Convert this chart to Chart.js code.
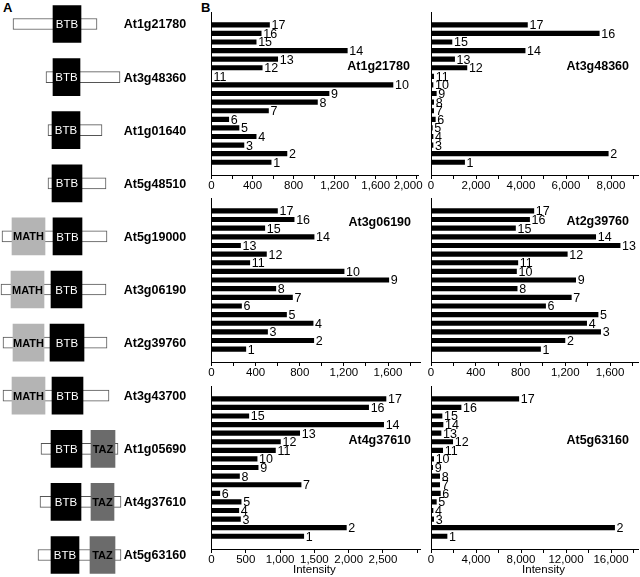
<!DOCTYPE html>
<html>
<head>
<meta charset="utf-8">
<script src="https://cdn.jsdelivr.net/npm/chart.js@4"></script>
<style>
  html, body { margin: 0; padding: 0; background: #fff; }
  #fig { position: relative; width: 640px; height: 577px; overflow: hidden; font-family: "Liberation Sans", Arial, sans-serif; }
  #fig canvas { position: absolute; }
  .tag { position: absolute; font-weight: bold; font-size: 13px; line-height: 13px; }
</style>
</head>
<body>
<div id="fig">
  <div class="tag" style="left:3px;top:1px">A</div>
  <div class="tag" style="left:201px;top:1px">B</div>
</div>
<script>
// ---- panel A: domain layout (schematic units) ----
const genes = ['At1g21780', 'At3g48360', 'At1g01640', 'At5g48510', 'At5g19000', 'At3g06190',
               'At2g39760', 'At3g43700', 'At1g05690', 'At4g37610', 'At5g63160'];
const proteinSpan = [[13, 97], [46, 120], [48, 102], [48, 106], [2, 107], [1, 106],
                     [3, 107], [3, 109], [41, 118], [40, 121], [38, 121]];
const mathSpan = [null, null, null, null, [12, 45], [11, 44], [13, 44], [12, 45], null, null, null];
const btbSpan = [[53, 81], [53, 80], [52, 80], [52, 82], [53, 82], [51, 82],
                 [50, 84], [52, 83], [51, 82], [51, 81], [51, 79]];
const tazSpan = [null, null, null, null, null, null, null, null, [91, 115], [91, 114], [90, 115]];

// ---- panel B: intensity per sample 1..17 ----
const samples = [1, 2, 3, 4, 5, 6, 7, 8, 9, 10, 11, 12, 13, 14, 15, 16, 17];
const at1g21780 = [581, 735, 316, 435, 268, 168, 555, 1032, 1145, 1768, 0, 494, 645, 1323, 435, 484, 565];
const at3g48360 = [1493, 7878, 89, 89, 59, 192, 118, 118, 236, 89, 118, 1596, 1049, 4183, 931, 7479, 4286];
const at3g06190 = [311, 927, 508, 921, 680, 272, 734, 583, 1607, 1202, 347, 498, 263, 930, 483, 749, 598];
const at2g39760 = [979, 1197, 1516, 1391, 1493, 1024, 1254, 770, 1293, 764, 776, 1218, 1690, 1472, 755, 881, 919];
const at4g37610 = [1345, 1966, 422, 398, 432, 121, 1306, 408, 680, 665, 932, 1005, 1286, 2510, 544, 2291, 2544];
const at5g63160 = [1424, 16320, 237, 178, 475, 831, 772, 772, 148, 237, 1039, 1929, 890, 1068, 979, 2670, 7804];

const FONT = '"Liberation Sans", Arial, sans-serif';
Chart.defaults.font.family = FONT;
Chart.defaults.color = '#000';

const fig = document.getElementById('fig');
function addCanvas(id, left, top, w, h) {
  const c = document.createElement('canvas');
  c.id = id; c.width = w; c.height = h;
  c.style.left = left + 'px'; c.style.top = top + 'px';
  fig.appendChild(c);
  return c;
}

// labels inside the domain boxes + gene names
const domainText = {
  id: 'domainText',
  afterDatasetsDraw(chart) {
    const ctx = chart.ctx;
    const mid = el => (el.x + el.base) / 2;
    ctx.save();
    ctx.textAlign = 'center';
    ctx.textBaseline = 'middle';
    chart.data.datasets.forEach((ds, di) => {
      if (!ds.boxText) return;
      ctx.font = ds.boxFont;
      ctx.fillStyle = ds.boxTextColor;
      chart.getDatasetMeta(di).data.forEach((el, i) => {
        if (ds.data[i] == null) return;
        ctx.fillText(ds.boxText, mid(el), el.y + 1);
      });
    });
    ctx.font = 'bold 12.5px ' + FONT;
    ctx.fillStyle = '#000';
    const xs = chart.scales.x;
    chart.getDatasetMeta(0).data.forEach((el, i) => {
      ctx.fillText(genes[i], xs.getPixelForValue(155), el.y + 1);
    });
    ctx.restore();
  }
};

new Chart(addCanvas('domains', 0, 0, 200, 577), {
  type: 'bar',
  data: {
    labels: genes,
    datasets: [
      { label: 'BTB', data: btbSpan, backgroundColor: '#000', barThickness: 37, order: 1,
        boxText: 'BTB', boxFont: '11.5px ' + FONT, boxTextColor: '#fff' },
      { label: 'MATH', data: mathSpan, backgroundColor: '#b4b4b4', barThickness: 37, order: 1,
        boxText: 'MATH', boxFont: 'bold 11px ' + FONT, boxTextColor: '#000' },
      { label: 'TAZ', data: tazSpan, backgroundColor: '#6b6b6b', barThickness: 37, order: 1,
        boxText: 'TAZ', boxFont: 'bold 11px ' + FONT, boxTextColor: '#000' },
      { label: 'protein', data: proteinSpan, backgroundColor: '#fff', borderColor: '#555',
        borderWidth: 1, barThickness: 11, order: 2 }
    ]
  },
  options: {
    indexAxis: 'y', animation: false, responsive: false,
    datasets: { bar: { grouped: false, borderSkipped: false, clip: false } },
    layout: { padding: { top: 24, bottom: 22, left: 0, right: 0 } },
    plugins: { legend: { display: false }, tooltip: { enabled: false } },
    scales: {
      x: { type: 'linear', min: 0, max: 200, display: false },
      y: { type: 'category', offset: false, display: false }
    }
  },
  plugins: [domainText]
});

// ---- panel B ----
const barNumbers = {
  id: 'barNumbers',
  afterDatasetsDraw(chart, args, opts) {
    const ctx = chart.ctx;
    ctx.save();
    ctx.fillStyle = '#000';
    ctx.textBaseline = 'middle';
    ctx.textAlign = 'left';
    ctx.font = '12.5px ' + FONT;
    chart.getDatasetMeta(0).data.forEach((bar, i) => {
      ctx.fillText(String(samples[i]), bar.x + 2, bar.y + 1);
    });
    ctx.font = 'bold 12.5px ' + FONT;
    ctx.textAlign = 'right';
    ctx.fillText(opts.gene, chart.chartArea.right - 9, chart.scales.y.getPixelForValue(opts.nameAt));
    if (opts.intensityAt != null) {
      ctx.font = '11.5px ' + FONT;
      ctx.textAlign = 'center';
      ctx.fillText('Intensity', chart.scales.x.getPixelForValue(opts.intensityAt), chart.height - 7);
    }
    ctx.restore();
  }
};

const cols = [
  { left: 190, width: 250, areaL: 211.5, areaR: 420 },
  { left: 426, width: 214, areaL: 431, areaR: 638 }
];
const rows = [
  { top: 0, height: 198, areaT: 12.5, areaB: 175 },
  { top: 188, height: 200, areaT: 198.5, areaB: 362 },
  { top: 376, height: 201, areaT: 386.5, areaB: 549 }
];

const panels = [
  { gene: 'At1g21780', values: at1g21780, row: 0, col: 0, max: 2020, step: 200, labelStep: 400, nameAt: 12.1, pullLast: true },
  { gene: 'At3g48360', values: at3g48360, row: 0, col: 1, max: 9200, step: 1000, labelStep: 2000, nameAt: 12.1 },
  { gene: 'At3g06190', values: at3g06190, row: 1, col: 0, max: 1890, step: 200, labelStep: 400, nameAt: 15.7 },
  { gene: 'At2g39760', values: at2g39760, row: 1, col: 1, max: 1850, step: 200, labelStep: 400, nameAt: 15.75 },
  { gene: 'At4g37610', values: at4g37610, row: 2, col: 0, max: 3040, step: 500, labelStep: 500, labelMax: 2500,
    nameAt: 12.1, intensityAt: 1500 },
  { gene: 'At5g63160', values: at5g63160, row: 2, col: 1, max: 18400, step: 2000, labelStep: 4000,
    nameAt: 12.1, intensityAt: 10000 }
];

panels.forEach((p, k) => {
  const c = cols[p.col], r = rows[p.row];
  const axisH = r.top + r.height - r.areaB;
  const labelMax = p.labelMax ?? p.max;
  const lastLabel = Math.floor(labelMax / p.labelStep) * p.labelStep;
  new Chart(addCanvas('b' + k, c.left, r.top, c.width, r.height), {
    type: 'bar',
    data: {
      datasets: [{
        data: p.values.map((v, i) => ({ x: v, y: samples[i] })),
        backgroundColor: '#000',
        barThickness: 4.5
      }]
    },
    options: {
      indexAxis: 'y', animation: false, responsive: false,
      layout: { padding: { left: c.areaL - c.left, right: c.left + c.width - c.areaR, top: r.areaT - r.top, bottom: 0 } },
      plugins: {
        legend: { display: false }, tooltip: { enabled: false },
        barNumbers: { gene: p.gene, nameAt: p.nameAt, intensityAt: p.intensityAt }
      },
      scales: {
        x: {
          type: 'linear', min: 0, max: p.max,
          afterBuildTicks: s => {
            const t = [];
            for (let v = 0; v <= p.max; v += p.step) t.push({ value: v });
            s.ticks = t;
          },
          afterFit: s => { s.height = axisH; },
          ticks: {
            autoSkip: false, maxRotation: 0, minRotation: 0, padding: 0, color: '#000',
            font: { size: 11.5 },
            callback: v => {
              if (v % p.labelStep !== 0 || v > labelMax) return '';
              const txt = v.toLocaleString('en-US');
              // last label of the first panel sits pulled in from the axis end
              return (p.pullLast && v === lastLabel) ? txt + '\u2002\u2002\u2002' : txt;
            }
          },
          grid: { display: true, drawOnChartArea: false, drawTicks: true, tickLength: 4, color: '#000', lineWidth: 1 },
          border: { display: true, color: '#000', width: 1 }
        },
        y: {
          type: 'linear', min: 0.7, max: 17.25,
          afterFit: s => { s.width = 0; },
          ticks: { display: false },
          grid: { display: false },
          border: { display: true, color: '#000', width: 1 }
        }
      }
    },
    plugins: [barNumbers]
  });
});
</script>
</body>
</html>
